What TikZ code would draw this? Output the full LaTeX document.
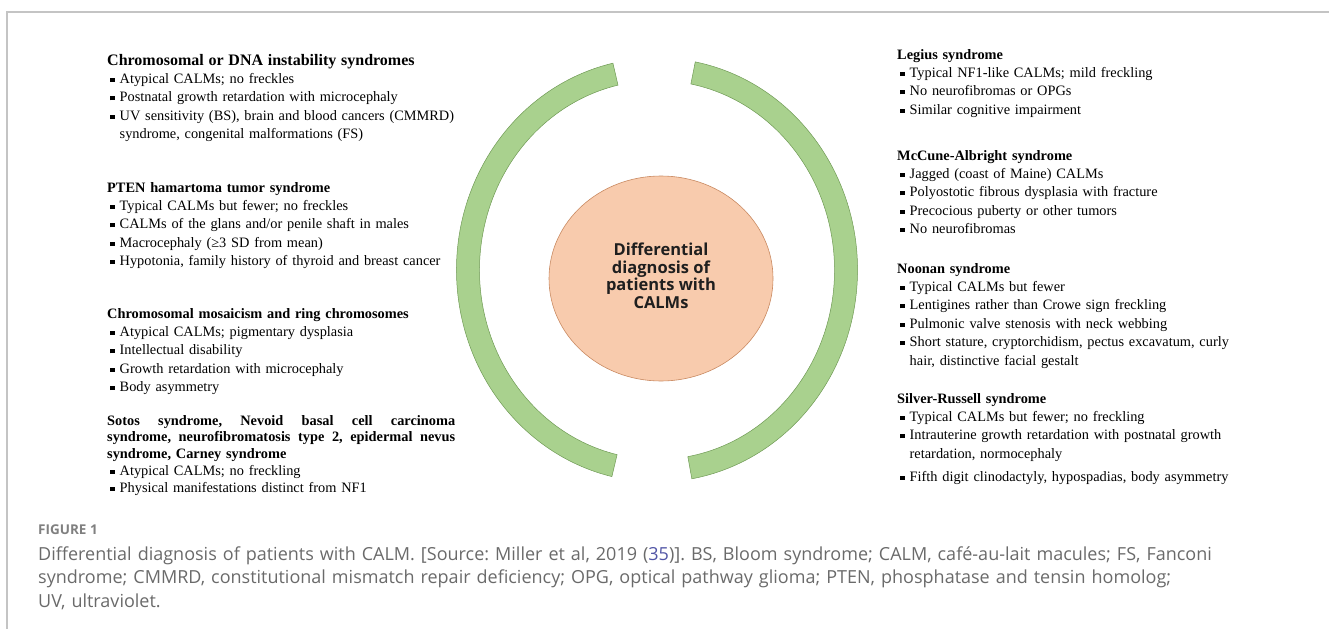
\documentclass[tikz,border=0pt]{standalone}
\usepackage{fontspec}
\setmainfont{Liberation Serif}
\newfontfamily\hubfont{Open Sans}
\newfontfamily\capfont{Open Sans}
\usetikzlibrary{shapes.geometric}
\definecolor{arcgreen}{HTML}{A9D18E}
\definecolor{arcedge}{HTML}{6F9A55}
\definecolor{hubfill}{HTML}{F8CBAD}
\definecolor{hubedge}{HTML}{C98A62}
\definecolor{capgray}{HTML}{6A6A6A}
\definecolor{framegray}{HTML}{C4C4C4}
\definecolor{refblue}{HTML}{5256A6}
\newcommand{\sqbul}{\rule[1.5pt]{4.1pt}{4.1pt}}
\newcommand{\itm}[1]{\par{\leftskip=12.5pt\noindent\hspace*{-9.3pt}\makebox[9.3pt][l]{\sqbul}#1\par}}
\newcommand{\hd}[1]{\textbf{#1}}
\newcommand{\jl}[1]{\makebox[348pt][l]{#1}\par}
\begin{document}
\begin{tikzpicture}[x=1pt,y=1pt,
	blk/.style={anchor=base west,inner sep=0pt,text width=370pt,execute at begin node=\raggedright,font=\fontsize{14.35}{18.4}\selectfont},
	hub/.style={ellipse,draw=hubedge,fill=hubfill,line width=0.6pt,minimum width=224pt,minimum height=205pt,inner sep=0pt},
	hubtxt/.style={align=center,inner sep=0pt,text=black!88,font=\hubfont\bfseries\fontsize{16.5}{17.7}\selectfont},
	band/.style={draw=arcedge,fill=arcgreen,line width=0.5pt},
	capnum/.style={anchor=base west,inner sep=0pt,text=capgray!85,font=\capfont\bfseries\fontsize{13.5}{16}\selectfont},
	captext/.style={anchor=base west,inner sep=0pt,text width=1280pt,execute at begin node=\raggedright\frenchspacing,text=capgray,font=\capfont\fontsize{18}{23.7}\selectfont}]
	\useasboundingbox (0,0) rectangle (1329,-629);
	\draw[framegray,line width=1.2pt] (1329,-12) -- (7,-12) -- (7,-629);
	% rings round the hub
	\coordinate (cen) at (657,-270);
	\foreach \a/\b in {102.7/257,79/-80}
	\draw[band] ([shift={(\a:200.5pt and 212pt)}]cen) arc[start angle=\a,end angle=\b,x radius=200.5pt,y radius=212pt]
	-- ([shift={(\b:177.5pt and 189.5pt)}]cen) arc[start angle=\b,end angle=\a,x radius=177.5pt,y radius=189.5pt] -- cycle;
	\node[hub] (hub) at (661,-278.5) {};
	\node[hubtxt] (hubtext) at ([yshift=2.7pt]hub.center) {Differential\\diagnosis of\\patients with\\CALMs};
	% left column
	\node[blk] (chrom) at (107,-65) {{\fontsize{16}{18.4}\selectfont\hd{Chromosomal or DNA instability syndromes}}
		\itm{Atypical CALMs; no freckles}
		\itm{Postnatal growth retardation with microcephaly}
		\itm{UV sensitivity (BS), brain and blood cancers (CMMRD)\newline syndrome, congenital malformations (FS)}};
	\node[blk] (pten) at (107,-192) {\hd{PTEN hamartoma tumor syndrome}
		\itm{Typical CALMs but fewer; no freckles}
		\itm{CALMs of the glans and/or penile shaft in males}
		\itm{Macrocephaly (≥3 SD from mean)}
		\itm{Hypotonia, family history of thyroid and breast cancer}};
	\node[blk] (mosaic) at (107,-318) {\hd{Chromosomal mosaicism and ring chromosomes}
		\itm{Atypical CALMs; pigmentary dysplasia}
		\itm{Intellectual disability}
		\itm{Growth retardation with microcephaly}
		\itm{Body asymmetry}};
	\node[blk] (sotos) at (107,-425) {\baselineskip=16.8pt{\bfseries
		\jl{Sotos \hfill syndrome, \hfill Nevoid \hfill basal \hfill cell \hfill carcinoma}
		\jl{syndrome, \hfill neurofibromatosis \hfill type \hfill 2, \hfill epidermal \hfill nevus}
		syndrome, Carney syndrome\par}
		\itm{Atypical CALMs; no freckling}
		\itm{Physical manifestations distinct from NF1}};
	% right column
	\node[blk] (legius) at (897,-59) {\hd{Legius syndrome}
		\itm{Typical NF1-like CALMs; mild freckling}
		\itm{No neurofibromas or OPGs}
		\itm{Similar cognitive impairment}};
	\node[blk] (mccune) at (897,-160) {\hd{McCune-Albright syndrome}
		\itm{Jagged (coast of Maine) CALMs}
		\itm{Polyostotic fibrous dysplasia with fracture}
		\itm{Precocious puberty or other tumors}
		\itm{No neurofibromas}};
	\node[blk] (noonan) at (897,-273) {\hd{Noonan syndrome}
		\itm{Typical CALMs but fewer}
		\itm{Lentigines rather than Crowe sign freckling}
		\itm{Pulmonic valve stenosis with neck webbing}
		\itm{Short stature, cryptorchidism, pectus excavatum, curly\newline hair, distinctive facial gestalt}};
	\node[blk] (silver) at (897,-403) {\hd{Silver-Russell syndrome}
		\itm{Typical CALMs but fewer; no freckling}
		\itm{Intrauterine growth retardation with postnatal growth\newline retardation, normocephaly}\vspace{4.6pt}
		\itm{Fifth digit clinodactyly, hypospadias, body asymmetry}};
	% caption
	\node[capnum] (fignum) at (38,-534) {FIGURE 1};
	\node[captext] (caption) at (38,-560) {Differential diagnosis of patients with CALM. [Source: Miller et al, 2019 ({\color{refblue}35})]. BS, Bloom syndrome; CALM, café-au-lait macules; FS, Fanconi\newline syndrome; CMMRD, constitutional mismatch repair deficiency; OPG, optical pathway glioma; PTEN, phosphatase and tensin homolog;\newline UV, ultraviolet.};
\end{tikzpicture}
\end{document}
